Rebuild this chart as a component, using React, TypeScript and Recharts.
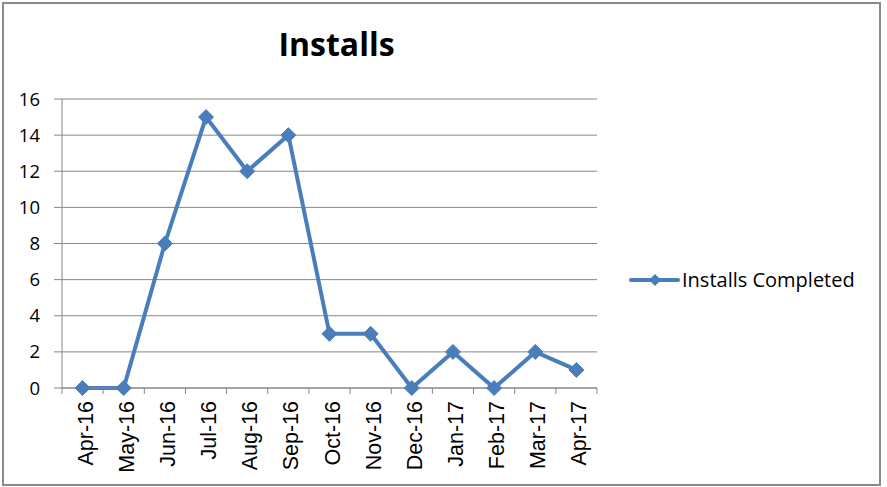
import React from 'react';
import { LineChart, Line, XAxis, YAxis, CartesianGrid, Legend } from 'recharts';

const title = 'Installs';
const seriesName = 'Installs Completed';
const months = ['Apr-16', 'May-16', 'Jun-16', 'Jul-16', 'Aug-16', 'Sep-16', 'Oct-16', 'Nov-16', 'Dec-16', 'Jan-17', 'Feb-17', 'Mar-17', 'Apr-17'];
const installs = [0, 0, 8, 15, 12, 14, 3, 3, 0, 2, 0, 2, 1];
const yTicks = [0, 2, 4, 6, 8, 10, 12, 14, 16];

const data = months.map((m, i) => ({ month: m, installs: installs[i] }));

const BLUE = '#4A7EBB';
const GRID = '#868686';
const FONT = '"Open Sans", sans-serif';
const XFONT = '"Liberation Sans", Arial, sans-serif';

const Diamond = (props: any) => {
  const { cx, cy } = props;
  if (cx == null || cy == null) return null;
  const r = 7.5;
  return (
    <polygon
      points={`${cx},${cy - r} ${cx + r},${cy} ${cx},${cy + r} ${cx - r},${cy}`}
      fill={BLUE}
      stroke={BLUE}
      strokeWidth={1}
    />
  );
};

const TICK_SIZE = 6;
const TICK_MARGIN = 7;

const XTick = (props: any) => {
  const { x, y, payload } = props;
  const half = payload && payload.offset ? payload.offset : 20.5;
  const axisY = y - TICK_SIZE - TICK_MARGIN;
  const isLast = payload.value === months[months.length - 1];
  return (
    <g>
      <line x1={x - half} x2={x - half} y1={axisY} y2={axisY + TICK_SIZE} stroke={GRID} strokeWidth={1} />
      {isLast && (
        <line x1={x + half} x2={x + half} y1={axisY} y2={axisY + TICK_SIZE} stroke={GRID} strokeWidth={1} />
      )}
      <text
        x={x}
        y={y}
        dy={10}
        transform={`rotate(-90, ${x}, ${y})`}
        textAnchor="end"
        fontFamily={XFONT}
        fontSize={21.5}
        fill="#000"
      >
        {payload.value}
      </text>
    </g>
  );
};

const LegendContent = () => (
  <div style={{ display: 'flex', alignItems: 'center', fontFamily: FONT, fontSize: 20, lineHeight: '24px', color: '#000', whiteSpace: 'nowrap' }}>
    <svg width={54} height={18} style={{ display: 'block' }}>
      <line x1={3} x2={50} y1={9} y2={9} stroke={BLUE} strokeWidth={4} strokeLinecap="round" />
      <polygon points="27,3 33,9 27,15 21,9" fill={BLUE} />
    </svg>
    <span>{seriesName}</span>
  </div>
);

export default function App() {
  return (
    <div style={{ position: 'absolute', left: 0, top: 0, width: 887, height: 487, background: '#fff' }}>
      <div
        style={{
          position: 'absolute',
          left: 2,
          top: 2,
          width: 879,
          height: 484,
          boxSizing: 'border-box',
          border: '2px solid #8a8a8a',
        }}
      />
      <LineChart
        width={887}
        height={487}
        data={data}
        margin={{ top: 99, right: 290, bottom: 0, left: 0 }}
      >
        <CartesianGrid horizontal vertical={false} stroke={GRID} strokeWidth={1} />
        <XAxis
          dataKey="month"
          scale="band"
          interval={0}
          height={99}
          axisLine={{ stroke: GRID, strokeWidth: 1 }}
          tickLine={false}
          tickSize={TICK_SIZE}
          tickMargin={TICK_MARGIN}
          tick={<XTick />}
        />
        <YAxis
          domain={[0, 16]}
          ticks={yTicks}
          width={62}
          interval={0}
          axisLine={{ stroke: GRID, strokeWidth: 1 }}
          tickLine={{ stroke: GRID, strokeWidth: 1 }}
          tickSize={8}
          tickMargin={14}
          tick={{ fill: '#000', fontSize: 18.5, fontFamily: FONT }}
        />
        <Legend
          layout="horizontal"
          align="center"
          verticalAlign="middle"
          content={<LegendContent />}
          wrapperStyle={{ position: 'absolute', left: 628, top: 268, width: 250 }}
        />
        <Line
          type="linear"
          dataKey="installs"
          name={seriesName}
          stroke={BLUE}
          strokeWidth={4}
          dot={<Diamond />}
          activeDot={false}
          isAnimationActive={false}
        />
      </LineChart>
      <svg width={887} height={487} style={{ position: 'absolute', left: 0, top: 0, pointerEvents: 'none' }}>
        <text x={336.5} y={56} textAnchor="middle" fontFamily={FONT} fontWeight="bold" fontSize={32} fill="#000">
          {title}
        </text>
      </svg>
    </div>
  );
}
